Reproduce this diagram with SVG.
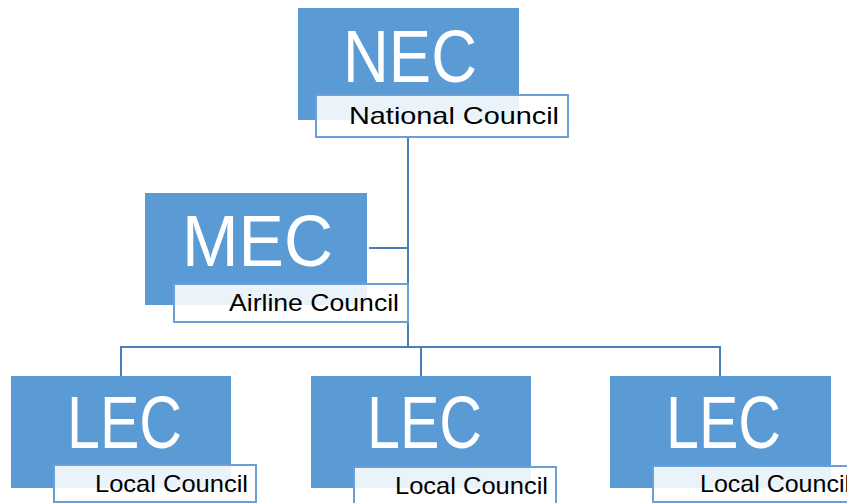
<svg xmlns="http://www.w3.org/2000/svg" width="847" height="503" viewBox="0 0 847 503">
<style>
.blk{fill:#5b9bd5}
.lbl{fill:#ffffff;fill-opacity:0.88;stroke:#6c9fd8;stroke-width:2}
.big{font-family:"Liberation Sans",Arial,sans-serif;fill:#ffffff}
.sm{font-family:"Liberation Sans",Arial,sans-serif;fill:#000000;font-size:24px}
.conn{fill:none;stroke:#4a7ebb;stroke-width:2}
</style>
<rect width="847" height="503" fill="#ffffff"/>
<g id="connectors">
<path class="conn" d="M408 137 V347"/>
<path class="conn" d="M369 248 H408"/>
<path class="conn" d="M121 376 V347 H720 V376"/>
<path class="conn" d="M421 347 V376"/>
</g>
<g id="nec">
<rect class="blk" x="298" y="8" width="221" height="112"/>
<text class="big" x="343" y="82" font-size="75" textLength="134" lengthAdjust="spacingAndGlyphs">NEC</text>
<rect class="lbl" x="316" y="95" width="252" height="42"/>
<text class="sm" x="349" y="124" textLength="210" lengthAdjust="spacingAndGlyphs">National Council</text>
</g>
<g id="mec">
<rect class="blk" x="145" y="193" width="222" height="112"/>
<text class="big" x="182" y="266" font-size="73" textLength="151" lengthAdjust="spacingAndGlyphs">MEC</text>
<rect class="lbl" x="174" y="284" width="234" height="38"/>
<text class="sm" x="229" y="311" textLength="170" lengthAdjust="spacingAndGlyphs">Airline Council</text>
</g>
<g id="lec1">
<rect class="blk" x="11" y="376" width="220" height="112"/>
<text class="big" x="67" y="448" font-size="74" textLength="115" lengthAdjust="spacingAndGlyphs">LEC</text>
<rect class="lbl" x="54" y="465" width="202" height="37"/>
<text class="sm" x="95" y="492" textLength="153" lengthAdjust="spacingAndGlyphs">Local Council</text>
</g>
<g id="lec2">
<rect class="blk" x="311" y="376" width="220" height="112"/>
<text class="big" x="367" y="448" font-size="74" textLength="115" lengthAdjust="spacingAndGlyphs">LEC</text>
<rect class="lbl" x="354" y="467" width="202" height="40"/>
<text class="sm" x="395" y="494" textLength="153" lengthAdjust="spacingAndGlyphs">Local Council</text>
</g>
<g id="lec3">
<rect class="blk" x="610" y="376" width="221" height="112"/>
<text class="big" x="666" y="448" font-size="74" textLength="115" lengthAdjust="spacingAndGlyphs">LEC</text>
<rect class="lbl" x="653" y="466" width="202" height="36"/>
<text class="sm" x="700" y="492" textLength="150" lengthAdjust="spacingAndGlyphs">Local Council</text>
</g>
</svg>
